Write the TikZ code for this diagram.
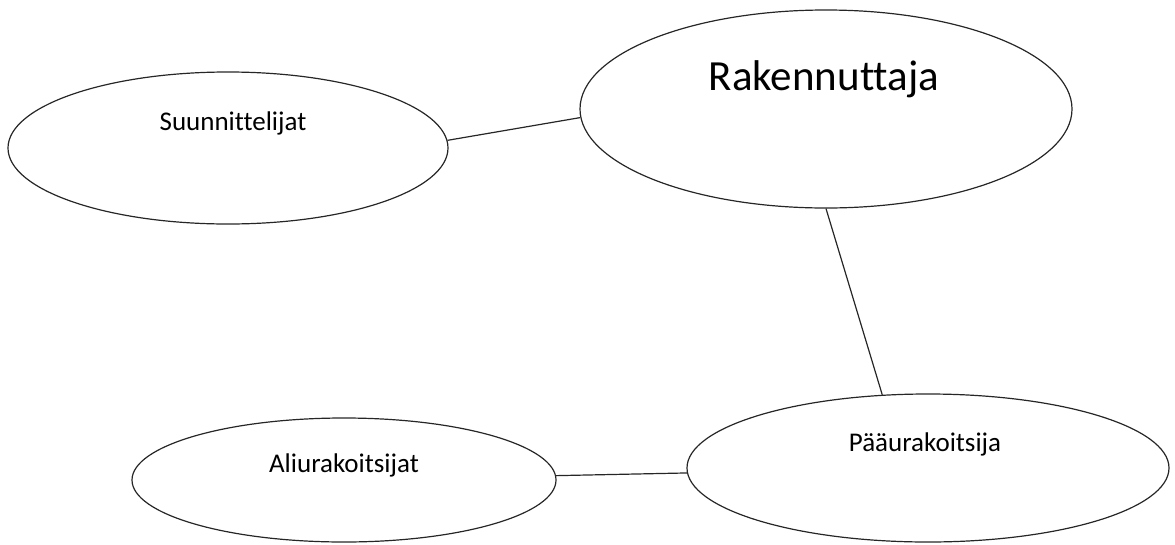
\documentclass[tikz,border=0pt]{standalone}
\usepackage{fontspec}
\setmainfont{Carlito}[Ligatures=NoCommon]
\usetikzlibrary{shapes.geometric}
\tikzset{
  soikio/.style={ellipse, draw=black!85, line width=1.2pt, inner sep=0pt},
  viiva/.style={black!85, line width=1.2pt},
  teksti/.style={anchor=base, inner sep=0pt, font=\fontsize{27}{30}\selectfont},
}
\begin{document}
\begin{tikzpicture}[x=1pt,y=-1pt]
\useasboundingbox (0,0) rectangle (1175,544);
\node[soikio, minimum width=440pt, minimum height=152pt] (suun) at (228,148){};
\node[soikio, minimum width=492pt, minimum height=198pt] (rak) at (826,109){};
\node[soikio, minimum width=424pt, minimum height=124pt] (ali) at (344,480){};
\node[soikio, minimum width=482pt, minimum height=148pt] (paa) at (928,468){};
\node[teksti] (suunt) at (233,130){Suunnittelijat};
\node[teksti, font=\fontsize{43}{48}\selectfont] (rakt) at (824,90){Rakennuttaja};
\node[teksti] (alit) at (344,472){Aliurakoitsijat};
\node[teksti] (paat) at (925,451){Pääurakoitsija};
\draw[viiva] (suun.2) -- (rak.182);
\draw[viiva] (rak.south) -- (paa.122);
\draw[viiva] (ali) -- (paa);
\end{tikzpicture}
\end{document}
